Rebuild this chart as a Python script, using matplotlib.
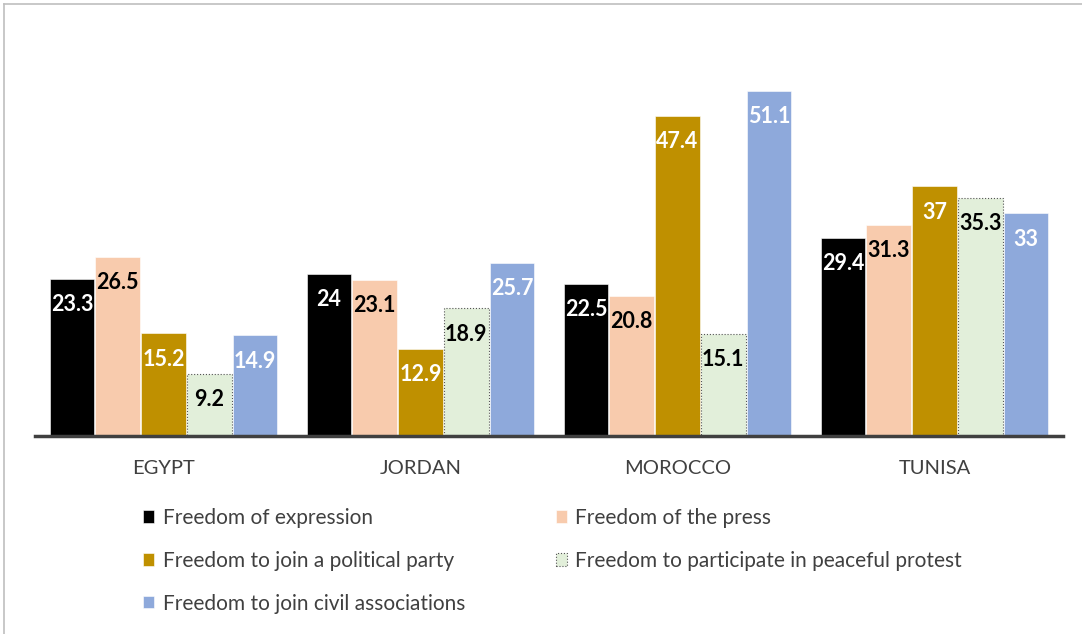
import matplotlib.pyplot as plt
import numpy as np
from matplotlib.lines import Line2D

countries = ["EGYPT", "JORDAN", "MOROCCO", "TUNISA"]
series = [
    "Freedom of expression",
    "Freedom of the press",
    "Freedom to join a political party",
    "Freedom to participate in peaceful protest",
    "Freedom to join civil associations",
]
expression = [23.3, 24, 22.5, 29.4]
press = [26.5, 23.1, 20.8, 31.3]
party = [15.2, 12.9, 47.4, 37]
protest = [9.2, 18.9, 15.1, 35.3]
civil = [14.9, 25.7, 51.1, 33]

values = [expression, press, party, protest, civil]
colors = ["#000000", "#F8CBAD", "#BF9000", "#E2EFDA", "#8EA9DB"]
label_colors = ["white", "black", "white", "black", "white"]

plt.rcParams["font.family"] = ["Lato", "DejaVu Sans"]

fig = plt.figure(figsize=(10.82, 6.34), dpi=100)
ax = fig.add_axes([35 / 1082, 198 / 634, 1028 / 1082, 396 / 634])

x = np.arange(len(countries))
width = 0.178
for i, vals in enumerate(values):
    pos = x + (i - 2) * width
    if i == 3:
        bars = ax.bar(pos, vals, width * 0.98, color=colors[i], edgecolor="#555555",
                      linewidth=0.8, linestyle=":", label=series[i])
    else:
        bars = ax.bar(pos, vals, width * 0.98, color=colors[i], edgecolor="white",
                      linewidth=0.4, label=series[i])
    for b, v in zip(bars, vals):
        ax.annotate(f"{v:g}", (b.get_x() + b.get_width() / 2, v),
                    xytext=(0, -18.5), textcoords="offset points",
                    ha="center", va="center", fontsize=15.5, fontweight="bold",
                    color=label_colors[i])

ax.set_xlim(-0.5, 3.5)
ax.set_ylim(0, 58.7)
ax.set_xticks(x)
ax.set_xticklabels(countries, fontsize=14.5, color="#404040")
ax.tick_params(axis="x", length=0, pad=17)
ax.set_yticks([])
for s in ["top", "right", "left"]:
    ax.spines[s].set_visible(False)
ax.spines["bottom"].set_color("#404040")
ax.spines["bottom"].set_linewidth(2.5)

handles, labels = ax.get_legend_handles_labels()
order = [0, 2, 4, 1, 3]
fig.legend([handles[k] for k in order], [labels[k] for k in order],
           loc="upper left", bbox_to_anchor=(124 / 1082, 1 - 489 / 634),
           ncol=2, frameon=False, fontsize=15, labelcolor="#404040",
           handlelength=0.55, handleheight=0.55, handletextpad=0.4,
           labelspacing=1.1, columnspacing=4.35)

fig.add_artist(Line2D([4 / 1082, 1], [1 - 4 / 634, 1 - 4 / 634], color="#BFBFBF", linewidth=1.2))
fig.add_artist(Line2D([4 / 1082, 4 / 1082], [0, 1 - 4 / 634], color="#BFBFBF", linewidth=1.2))

fig.savefig("out.png", dpi=100)
